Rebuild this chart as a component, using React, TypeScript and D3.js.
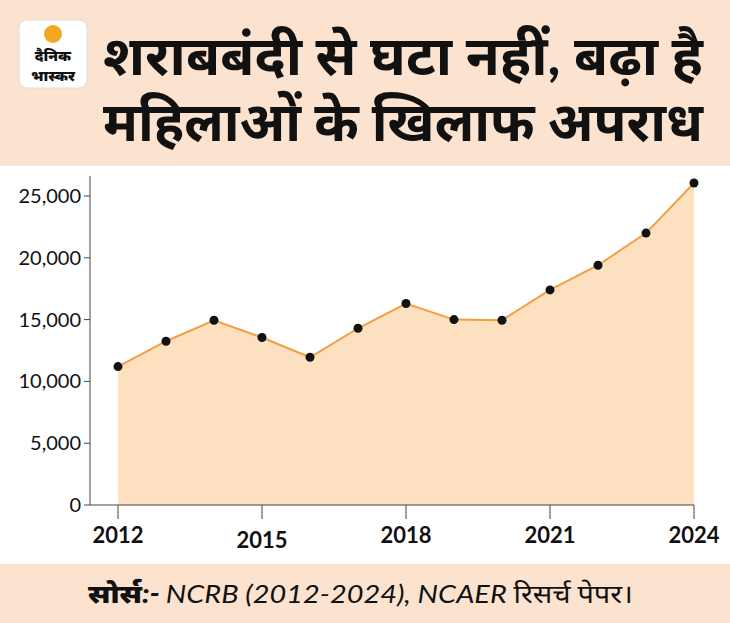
import * as d3 from "d3";

const years = [2012, 2013, 2014, 2015, 2016, 2017, 2018, 2019, 2020, 2021, 2022, 2023, 2024];
const crimes = [11200, 13250, 14950, 13550, 11950, 14300, 16300, 15000, 14950, 17400, 19400, 22000, 26050];
const yTicks = [0, 5000, 10000, 15000, 20000, 25000];
const xTicks = [2012, 2015, 2018, 2021, 2024];

const W = 730, H = 623;
const PEACH = "#fbe3cf";

export default function App() {
  const x = d3.scaleLinear().domain([2012, 2024]).range([118, 694]);
  const y = d3.scaleLinear().domain([0, 25000]).range([505, 196]);
  const pts = years.map((yr, i) => [yr, crimes[i]] as [number, number]);
  const line = d3.line<[number, number]>().x(d => x(d[0])).y(d => y(d[1]));
  const area = d3.area<[number, number]>().x(d => x(d[0])).y0(y(0)).y1(d => y(d[1]));
  const fmt = d3.format(",");
  const font = "Lato, 'Noto Sans', sans-serif";
  return (
    <svg width={W} height={H} style={{ position: "absolute", left: 0, top: 0 }} fontFamily={font}>
      <rect width={W} height={H} fill="#fff" />
      <rect width={W} height={166} fill={PEACH} />
      <rect x={19} y={20} width={68} height={68} rx={8} fill="#fff" stroke="#ddd" />
      <circle cx={53} cy={34} r={9} fill="#f5a623" />
      <text x={53} y={61} textAnchor="middle" fontSize={15} fontWeight={900} fill="#111">दैनिक</text>
      <text x={53} y={81} textAnchor="middle" fontSize={15} fontWeight={900} fill="#111">भास्कर</text>
      <text x={403} y={75} textAnchor="middle" fontSize={55} fontWeight={700} fill="#111" textLength={600} lengthAdjust="spacingAndGlyphs">शराबबंदी से घटा नहीं, बढ़ा है</text>
      <text x={403} y={141} textAnchor="middle" fontSize={55} fontWeight={700} fill="#111" textLength={600} lengthAdjust="spacingAndGlyphs">महिलाओं के खिलाफ अपराध</text>

      <path d={area(pts) ?? ""} fill="#fde0c0" />
      <path d={line(pts) ?? ""} fill="none" stroke="#f0a040" strokeWidth={2} />
      {pts.map((p, i) => <circle key={i} cx={x(p[0])} cy={y(p[1])} r={4.5} fill="#111" />)}

      <line x1={90} x2={90} y1={176} y2={505} stroke="#444" />
      {yTicks.map(t => (
        <g key={t}>
          <line x1={84} x2={90} y1={y(t)} y2={y(t)} stroke="#444" />
          <text x={81} y={y(t) + 7} textAnchor="end" fontSize={20} fill="#111">{fmt(t)}</text>
        </g>
      ))}
      <line x1={90} x2={694} y1={505} y2={505} stroke="#444" />
      {xTicks.map(t => (
        <g key={t}>
          <line x1={x(t)} x2={x(t)} y1={505} y2={519} stroke="#444" />
          <text x={x(t)} y={t === 2015 ? 548 : 543} textAnchor="middle" fontSize={22} fontWeight={700} fill="#111">{t}</text>
        </g>
      ))}

      <rect y={564} width={W} height={H - 564} fill={PEACH} />
      <text x={88} y={603} fontSize={26} fill="#111" textLength={545} lengthAdjust="spacingAndGlyphs">
        <tspan fontWeight={900} fontStyle="italic">सोर्स:- </tspan>
        <tspan fontStyle="italic">NCRB (2012-2024), NCAER रिसर्च पेपर।</tspan>
      </text>
    </svg>
  );
}
